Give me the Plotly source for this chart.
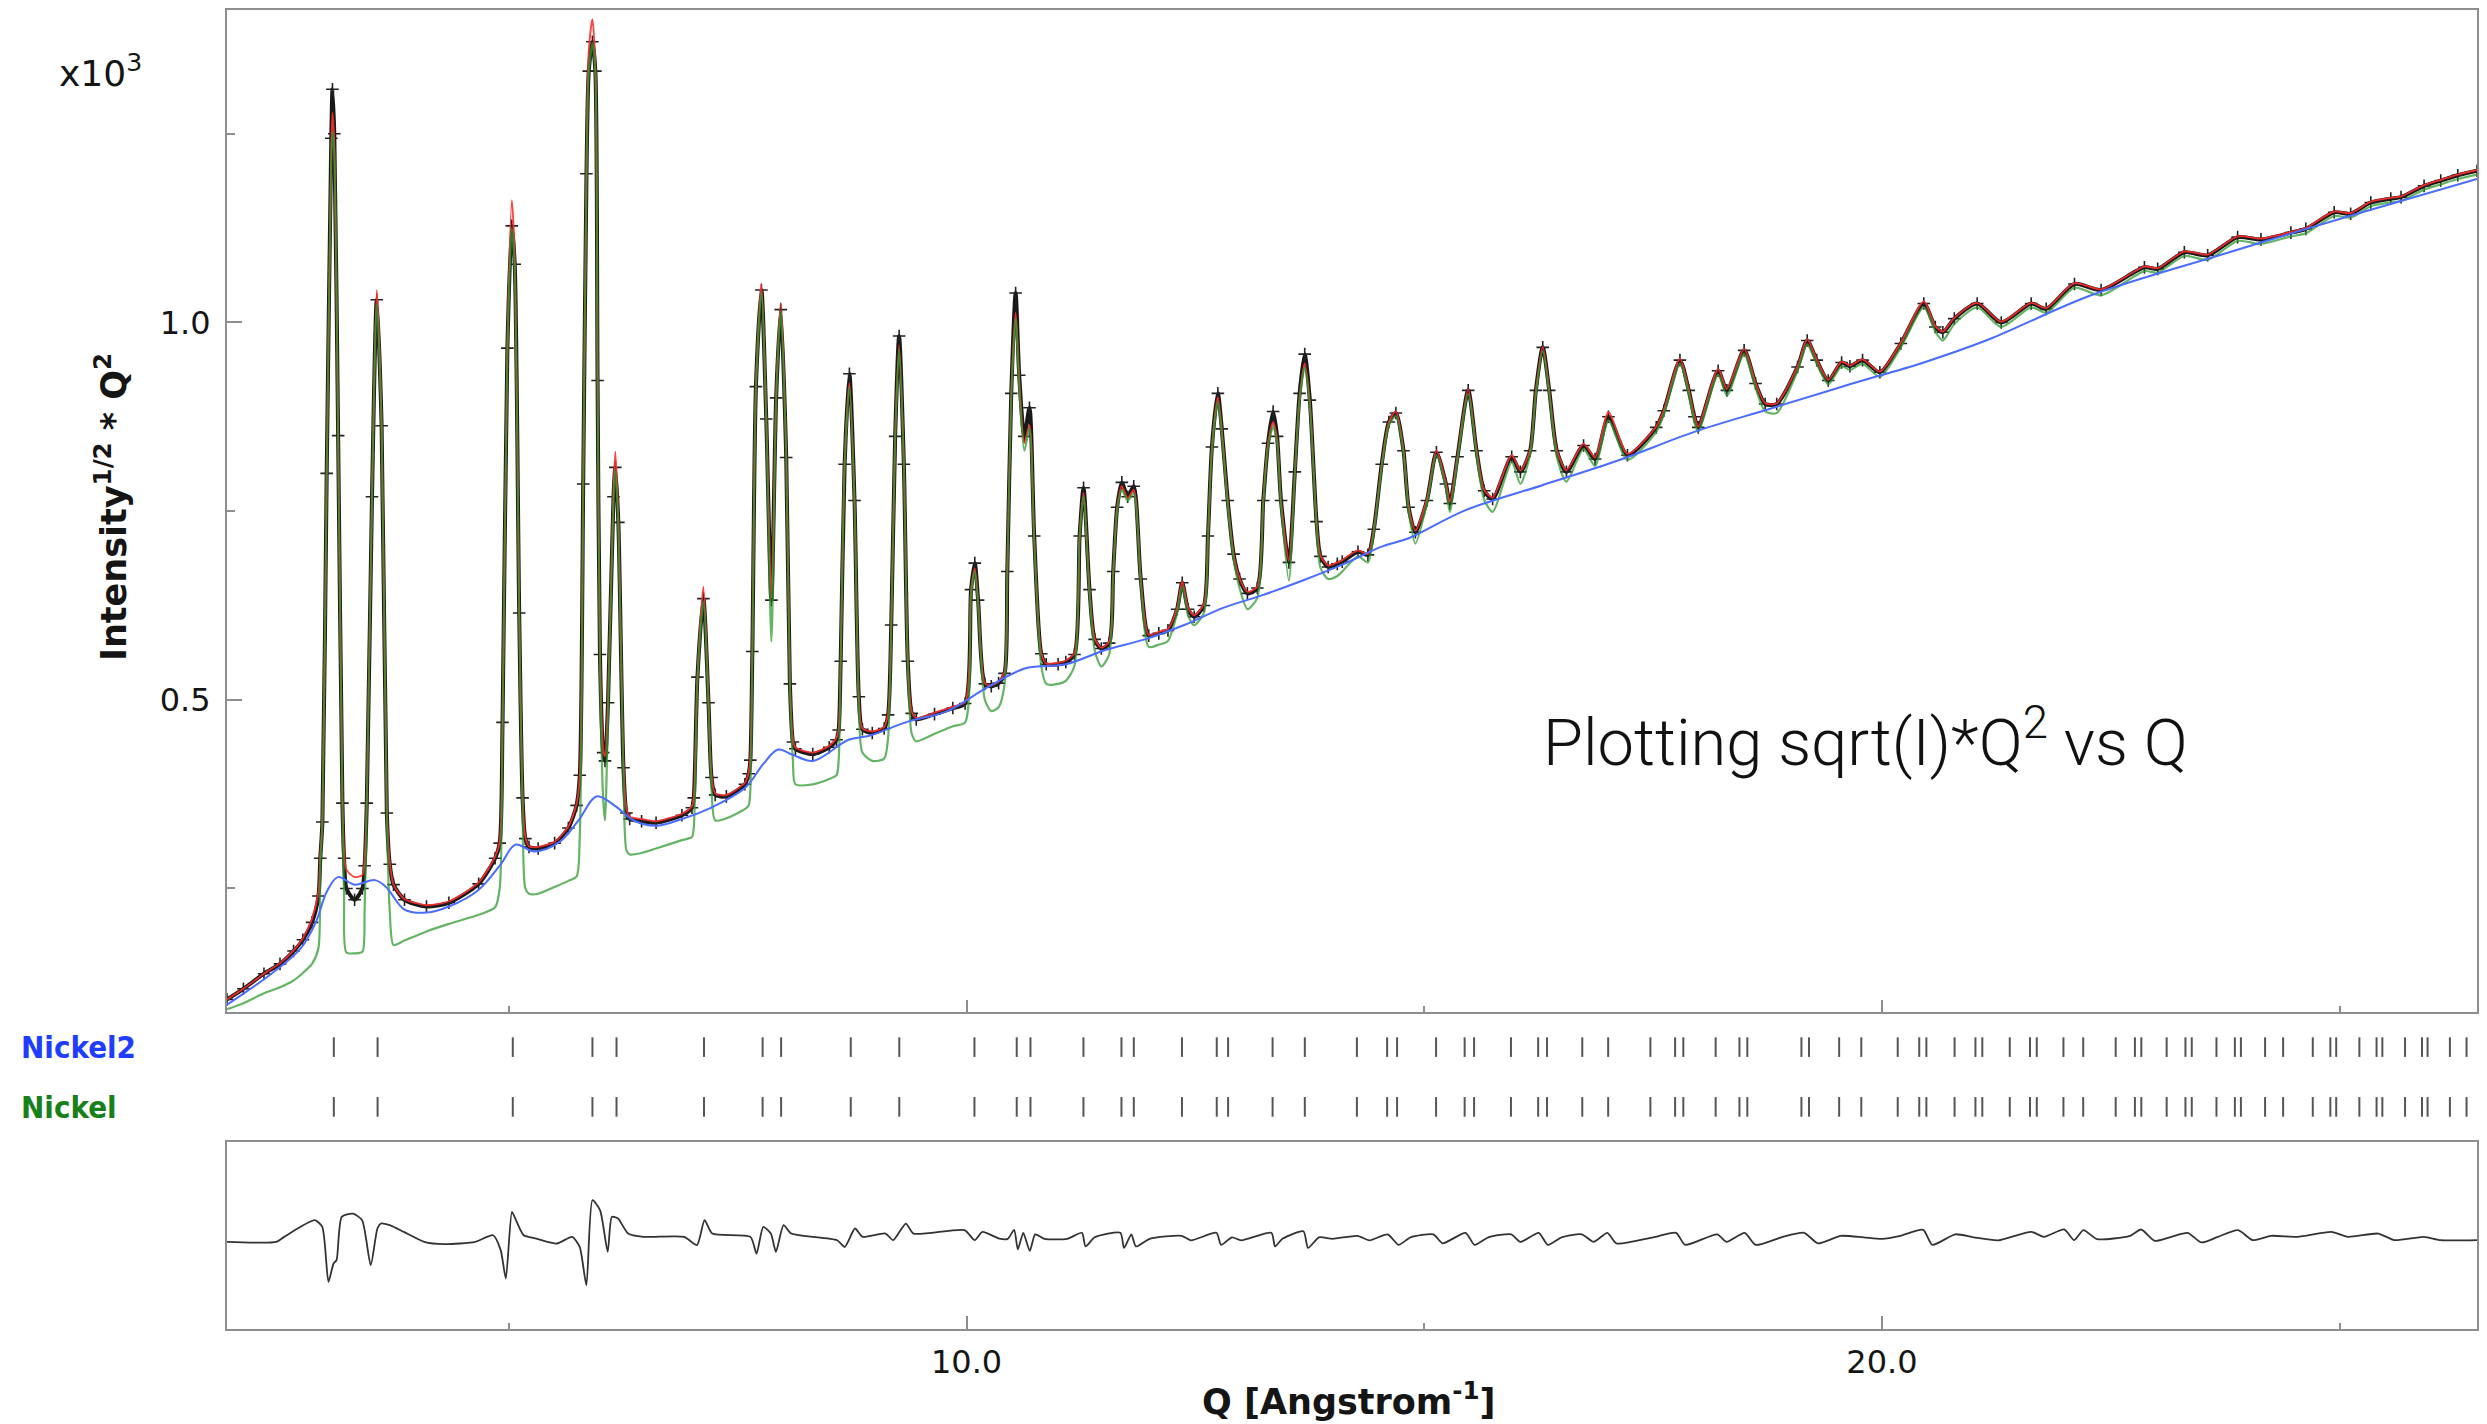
import plotly.graph_objects as go

# ---------------- data ----------------
# Q in 1/Angstrom, intensity^(1/2)*Q^2 in units of 10^3
Q_PROFILE = [
    1.921, 2.100, 2.325, 2.500, 2.648, 2.750, 2.850, 2.920, 2.940, 2.963, 3.010, 3.060, 3.073, 3.093, 3.135, 3.182, 3.200, 3.225, 3.315, 3.400, 3.424,
    3.448, 3.505, 3.557, 3.610, 3.667, 3.699, 3.740, 3.860, 4.100, 4.345, 4.670, 4.850, 4.900, 4.931, 4.984, 5.032, 5.064, 5.113, 5.150, 5.180, 5.220, 5.320, 5.500, 5.650, 5.740, 5.775,
    5.812, 5.848, 5.873, 5.913, 5.945, 5.969, 5.995, 6.030, 6.050, 6.083, 6.143, 6.163, 6.196, 6.252, 6.285, 6.320, 6.450, 6.608, 6.891, 7.000, 7.020, 7.060, 7.125, 7.181, 7.214, 7.254, 7.376, 7.578, 7.620, 7.638,
    7.660, 7.699, 7.759, 7.812, 7.868, 7.920, 7.970, 8.030, 8.070, 8.103, 8.130, 8.320, 8.500, 8.580, 8.603, 8.625, 8.668, 8.720, 8.776, 8.823, 8.862, 8.970, 9.100, 9.143, 9.177, 9.220, 9.263, 9.315, 9.358, 9.401, 9.450, 9.650, 9.850, 9.984,
    10.049, 10.090, 10.126, 10.200, 10.270, 10.350, 10.415, 10.445, 10.488, 10.536, 10.575, 10.631, 10.687, 10.739, 10.816, 10.870, 11.000, 11.084, 11.179, 11.235, 11.278, 11.343, 11.400, 11.472, 11.558, 11.602, 11.645, 11.696, 11.760, 11.826, 11.903, 11.990, 12.100, 12.200, 12.300, 12.356, 12.420, 12.486, 12.593,
    12.637, 12.680, 12.745, 12.788, 12.853, 12.917, 12.982, 13.068, 13.176, 13.241, 13.293, 13.349, 13.392, 13.435, 13.521, 13.586, 13.638, 13.694, 13.750, 13.823, 13.866, 13.950, 14.050, 14.104, 14.276, 14.384, 14.449, 14.535, 14.613, 14.690, 14.773, 14.829, 14.903,
    15.029, 15.133, 15.237, 15.279, 15.363, 15.480, 15.571, 15.655, 15.747, 15.955, 16.050, 16.156, 16.219, 16.294, 16.365, 16.448, 16.553, 16.740, 16.866, 17.012, 17.220, 17.534, 17.617, 17.793, 17.889, 17.951, 17.993, 18.210, 18.306, 18.494, 18.619, 18.724, 18.850, 19.078, 19.183, 19.287, 19.413, 19.559, 19.650, 19.788, 19.977, 20.206, 20.457, 20.582, 20.665, 20.790,
    21.040, 21.303, 21.630, 21.794, 22.103, 22.394, 22.867, 23.012, 23.303, 23.558, 23.885, 24.140, 24.467, 24.630, 24.940, 25.120, 25.340, 25.558, 25.670, 25.922, 26.104, 26.290, 26.500,
]
Y_OBS = [
    0.103, 0.117, 0.137, 0.150, 0.167, 0.182, 0.205, 0.240, 0.290, 0.338, 0.800, 1.244, 1.309, 1.250, 0.850, 0.363, 0.290, 0.250, 0.235, 0.250, 0.280,
    0.363, 0.769, 1.030, 0.863, 0.350, 0.282, 0.255, 0.235, 0.226, 0.231, 0.256, 0.290, 0.310, 0.470, 0.966, 1.128, 1.077, 0.615, 0.370, 0.316, 0.305, 0.303, 0.310, 0.330, 0.360, 0.400,
    0.786, 1.197, 1.333, 1.372, 1.333, 0.923, 0.560, 0.430, 0.419, 0.496, 0.769, 0.808, 0.735, 0.410, 0.350, 0.342, 0.339, 0.337, 0.347, 0.357, 0.370, 0.530, 0.634, 0.496, 0.397, 0.374, 0.372, 0.388, 0.402, 0.420,
    0.564, 0.915, 1.043, 0.872, 0.632, 0.900, 1.017, 0.821, 0.521, 0.444, 0.435, 0.428, 0.437, 0.447, 0.460, 0.551, 0.812, 0.932, 0.764, 0.504, 0.461, 0.456, 0.462, 0.480, 0.599, 0.849, 0.982, 0.812, 0.551, 0.482, 0.474, 0.481, 0.489, 0.495,
    0.646, 0.681, 0.632, 0.521, 0.518, 0.522, 0.535, 0.670, 0.906, 1.039, 0.930, 0.849, 0.887, 0.717, 0.561, 0.547, 0.547, 0.550, 0.560, 0.717, 0.781, 0.646, 0.580, 0.568, 0.575, 0.670, 0.755, 0.788, 0.769, 0.783, 0.660, 0.585, 0.588, 0.592, 0.620, 0.655, 0.620, 0.610, 0.625,
    0.717, 0.835, 0.906, 0.859, 0.764, 0.693, 0.660, 0.641, 0.648, 0.764, 0.840, 0.882, 0.849, 0.764, 0.682, 0.802, 0.906, 0.958, 0.897, 0.736, 0.690, 0.676, 0.680, 0.683, 0.696, 0.692, 0.726, 0.812, 0.868, 0.880, 0.830, 0.755, 0.722,
    0.764, 0.828, 0.786, 0.760, 0.822, 0.910, 0.830, 0.777, 0.766, 0.822, 0.802, 0.830, 0.910, 0.967, 0.910, 0.830, 0.802, 0.837, 0.819, 0.875, 0.824, 0.861, 0.883, 0.950, 0.910, 0.875, 0.861, 0.936, 0.910, 0.963, 0.919, 0.892, 0.892, 0.941, 0.976, 0.950, 0.923, 0.947, 0.942, 0.950, 0.934, 0.972, 1.025, 0.994, 0.987, 1.005,
    1.025, 1.000, 1.025, 1.018, 1.051, 1.043, 1.073, 1.071, 1.093, 1.089, 1.113, 1.110, 1.119, 1.124, 1.146, 1.144, 1.159, 1.164, 1.166, 1.181, 1.188, 1.195, 1.201,
]
Y_CALC = [
    0.103, 0.117, 0.137, 0.151, 0.168, 0.184, 0.210, 0.245, 0.295, 0.340, 0.800, 1.230, 1.278, 1.235, 0.850, 0.370, 0.300, 0.275, 0.265, 0.268, 0.290,
    0.370, 0.770, 1.043, 0.865, 0.355, 0.285, 0.255, 0.236, 0.228, 0.233, 0.258, 0.292, 0.312, 0.470, 0.970, 1.162, 1.090, 0.620, 0.375, 0.318, 0.306, 0.305, 0.312, 0.332, 0.362, 0.400,
    0.790, 1.210, 1.360, 1.402, 1.340, 0.930, 0.565, 0.435, 0.425, 0.500, 0.780, 0.829, 0.740, 0.415, 0.355, 0.345, 0.342, 0.339, 0.349, 0.359, 0.372, 0.530, 0.650, 0.500, 0.400, 0.376, 0.374, 0.390, 0.404, 0.425,
    0.565, 0.920, 1.051, 0.875, 0.635, 0.905, 1.026, 0.825, 0.525, 0.448, 0.437, 0.430, 0.439, 0.450, 0.462, 0.555, 0.815, 0.920, 0.765, 0.505, 0.462, 0.458, 0.464, 0.482, 0.600, 0.850, 0.970, 0.813, 0.552, 0.484, 0.476, 0.483, 0.491, 0.497,
    0.645, 0.674, 0.632, 0.522, 0.519, 0.524, 0.537, 0.672, 0.905, 1.013, 0.925, 0.840, 0.864, 0.715, 0.562, 0.548, 0.549, 0.552, 0.562, 0.718, 0.774, 0.646, 0.581, 0.569, 0.577, 0.670, 0.755, 0.783, 0.767, 0.778, 0.660, 0.586, 0.590, 0.594, 0.622, 0.657, 0.622, 0.612, 0.627,
    0.717, 0.834, 0.901, 0.857, 0.763, 0.693, 0.661, 0.643, 0.650, 0.765, 0.840, 0.868, 0.845, 0.763, 0.684, 0.800, 0.900, 0.946, 0.893, 0.736, 0.691, 0.678, 0.682, 0.685, 0.698, 0.693, 0.727, 0.812, 0.868, 0.882, 0.831, 0.757, 0.724,
    0.766, 0.830, 0.787, 0.762, 0.823, 0.912, 0.831, 0.778, 0.768, 0.824, 0.804, 0.831, 0.910, 0.968, 0.910, 0.831, 0.804, 0.839, 0.821, 0.881, 0.826, 0.862, 0.884, 0.952, 0.911, 0.876, 0.862, 0.938, 0.912, 0.965, 0.920, 0.893, 0.893, 0.942, 0.978, 0.951, 0.924, 0.948, 0.943, 0.951, 0.935, 0.973, 1.028, 0.995, 0.988, 1.006,
    1.026, 1.001, 1.026, 1.019, 1.052, 1.044, 1.074, 1.072, 1.094, 1.090, 1.114, 1.111, 1.120, 1.125, 1.147, 1.145, 1.160, 1.165, 1.167, 1.182, 1.189, 1.196, 1.202,
]
Y_PHASE = [
    0.090, 0.098, 0.111, 0.119, 0.128, 0.138, 0.150, 0.171, 0.280, 0.335, 0.795, 1.220, 1.252, 1.225, 0.845, 0.355, 0.240, 0.165, 0.164, 0.166, 0.220,
    0.360, 0.768, 1.025, 0.860, 0.345, 0.220, 0.175, 0.181, 0.193, 0.203, 0.215, 0.225, 0.250, 0.460, 0.960, 1.125, 1.070, 0.610, 0.350, 0.250, 0.243, 0.243, 0.252, 0.260, 0.266, 0.320,
    0.780, 1.190, 1.330, 1.370, 1.330, 0.920, 0.550, 0.370, 0.340, 0.480, 0.765, 0.805, 0.730, 0.400, 0.300, 0.295, 0.297, 0.303, 0.314, 0.318, 0.330, 0.525, 0.630, 0.490, 0.380, 0.340, 0.343, 0.355, 0.360, 0.380,
    0.560, 0.910, 1.040, 0.870, 0.577, 0.895, 1.015, 0.820, 0.515, 0.420, 0.388, 0.388, 0.395, 0.400, 0.420, 0.550, 0.810, 0.915, 0.760, 0.490, 0.430, 0.419, 0.422, 0.450, 0.595, 0.845, 0.965, 0.810, 0.545, 0.455, 0.445, 0.455, 0.465, 0.470,
    0.640, 0.670, 0.625, 0.500, 0.485, 0.490, 0.520, 0.665, 0.900, 1.005, 0.915, 0.830, 0.860, 0.710, 0.545, 0.521, 0.521, 0.525, 0.545, 0.715, 0.770, 0.640, 0.565, 0.544, 0.560, 0.665, 0.750, 0.778, 0.764, 0.773, 0.655, 0.570, 0.573, 0.578, 0.615, 0.650, 0.612, 0.599, 0.615,
    0.713, 0.830, 0.895, 0.852, 0.758, 0.687, 0.648, 0.620, 0.635, 0.760, 0.835, 0.862, 0.840, 0.758, 0.658, 0.798, 0.898, 0.940, 0.888, 0.730, 0.675, 0.660, 0.664, 0.670, 0.690, 0.682, 0.722, 0.808, 0.864, 0.876, 0.826, 0.750, 0.707,
    0.760, 0.824, 0.780, 0.749, 0.818, 0.905, 0.825, 0.765, 0.749, 0.815, 0.786, 0.825, 0.905, 0.962, 0.905, 0.822, 0.789, 0.832, 0.810, 0.870, 0.818, 0.855, 0.878, 0.945, 0.905, 0.868, 0.855, 0.931, 0.903, 0.958, 0.913, 0.882, 0.880, 0.936, 0.971, 0.945, 0.918, 0.942, 0.937, 0.945, 0.928, 0.967, 1.020, 0.988, 0.976, 0.998,
    1.020, 0.994, 1.020, 1.013, 1.046, 1.036, 1.068, 1.066, 1.088, 1.083, 1.108, 1.104, 1.114, 1.118, 1.141, 1.139, 1.154, 1.159, 1.161, 1.176, 1.183, 1.190, 1.196,
]

BG_Q = [1.921, 2.406, 2.729, 2.891, 3.012, 3.133, 3.315, 3.537, 3.658, 3.860, 4.103, 4.345, 4.668, 4.911, 5.072, 5.275, 5.557,
        5.759, 5.961, 6.163, 6.365, 6.608, 6.891, 7.174, 7.578, 7.780, 7.941, 8.103, 8.323, 8.711, 8.927, 9.358, 9.790,
        10.221, 10.652, 11.084, 11.515, 11.947, 12.378, 12.810, 13.241, 13.672, 14.104, 14.535, 14.829, 15.446, 16.281,
        17.116, 17.951, 18.787, 19.621, 20.457, 21.158, 22.285, 23.740, 25.190, 26.500]
BG_Y = [0.096, 0.137, 0.171, 0.205, 0.246, 0.265, 0.255, 0.261, 0.252, 0.222, 0.218, 0.226, 0.248, 0.282, 0.308, 0.299, 0.312,
        0.340, 0.372, 0.359, 0.340, 0.333, 0.342, 0.355, 0.383, 0.415, 0.434, 0.427, 0.419, 0.447, 0.452, 0.471, 0.485,
        0.516, 0.542, 0.547, 0.566, 0.580, 0.599, 0.622, 0.639, 0.658, 0.679, 0.703, 0.714, 0.751, 0.784,
        0.817, 0.855, 0.886, 0.917, 0.947, 0.977, 1.036, 1.091, 1.144, 1.190]

# difference curve (obs - calc), same units
DIFF_Q = [1.916, 2.461, 2.545, 2.879, 2.962, 3.029, 3.085, 3.118, 3.174, 3.296, 3.397, 3.491, 3.564, 3.603, 3.697, 3.853,
          4.076, 4.298, 4.633, 4.828, 4.911, 4.967, 5.034, 5.078, 5.162, 5.301, 5.524, 5.691, 5.774, 5.847, 5.913, 5.997,
          6.080, 6.125, 6.192, 6.303, 6.470, 6.915, 7.055, 7.138, 7.222, 7.639, 7.706, 7.779, 7.862, 7.918, 8.001, 8.085,
          8.586, 8.670, 8.781, 8.864, 9.115, 9.198, 9.337, 9.421, 9.978, 10.089, 10.173, 10.357,
          10.45, 10.52, 10.56, 10.62, 10.69, 10.75, 10.85, 11.10, 11.26, 11.30, 11.40, 11.68, 11.72, 11.80, 11.85, 12.00,
          12.35, 12.45, 12.73, 12.78, 12.90, 13.00, 13.33, 13.37, 13.45, 13.68, 13.73, 13.85, 14.00, 14.27, 14.40, 14.60,
          14.72, 14.85, 15.10, 15.20, 15.45, 15.55, 15.70, 15.95, 16.05, 16.25, 16.35, 16.50, 16.72, 16.85, 17.00, 17.10,
          17.50, 17.75, 17.85, 18.20, 18.30, 18.50, 18.62, 18.90, 19.15, 19.30, 19.55, 19.80, 20.00, 20.20, 20.45, 20.55,
          20.80, 21.00, 21.27, 21.63, 21.77, 21.99, 22.10, 22.20, 22.35, 22.71, 22.83, 22.98, 23.16, 23.34, 23.49, 23.67,
          23.89, 24.05, 24.25, 24.54, 24.91, 25.09, 25.42, 25.60, 25.92, 26.10, 26.50]
DIFF_Y = [0.0, 0.0, 0.0066, 0.0287, 0.0199, -0.0530, -0.0287, -0.0243, 0.0331, 0.0375, 0.0287, -0.0309, 0.0177, 0.0243, 0.0221, 0.0132,
          0.0, -0.0031, 0.0, 0.0088, -0.0110, -0.0486, 0.0397, 0.0287, 0.0088, 0.0044, -0.0022, 0.0066, -0.0066, -0.0574, 0.0552, 0.0419,
          -0.0132, 0.0331, 0.0309, 0.0110, 0.0066, 0.0066, -0.0044, 0.0287, 0.0110, 0.0066, -0.0155, 0.0199, 0.0110, -0.0132, 0.0221, 0.0110,
          0.0022, -0.0066, 0.0177, 0.0066, 0.0110, 0.0022, 0.0243, 0.0110, 0.0155, 0.0022, 0.0132, 0.0044,
          0.004, 0.016, -0.010, 0.012, -0.012, 0.010, 0.004, 0.004, 0.012, -0.006, 0.006, 0.012, -0.008, 0.010, -0.006, 0.004,
          0.008, 0.002, 0.012, -0.004, 0.006, 0.002, 0.012, -0.006, 0.004, 0.014, -0.008, 0.006, 0.004, 0.008, 0.002, 0.010,
          -0.004, 0.006, 0.010, -0.002, 0.012, -0.004, 0.006, 0.010, 0.000, 0.012, -0.004, 0.006, 0.010, 0.000, 0.012, -0.002,
          0.006, 0.012, -0.004, 0.010, 0.000, 0.012, -0.004, 0.006, 0.012, -0.002, 0.008, 0.006, 0.004, 0.008, 0.016, -0.004,
          0.010, 0.006, 0.002, 0.0133, 0.0067, 0.0164, 0.0023, 0.0155, 0.0036, 0.0080, 0.0164, 0.0014, 0.0067, 0.0119, -0.0008, 0.0067,
          0.0155, 0.0023, 0.0080, 0.0067, 0.0133, 0.0067, 0.0110, 0.0023, 0.0067, 0.0023, 0.0023]

# reflection positions (Q, 1/Angstrom) for the two phases
NICKEL_Q = [3.088, 3.566, 5.043, 5.913, 6.176, 7.132, 7.772, 7.974, 8.735, 9.265, 10.086, 10.548, 10.698, 11.277, 11.692,
            11.827, 12.353, 12.733, 12.857, 13.343, 13.695, 14.264, 14.594, 14.703, 15.129, 15.441, 15.544, 15.947, 16.244,
            16.341, 16.726, 17.009, 17.470, 17.740, 17.830, 18.183, 18.443, 18.529, 19.120, 19.203, 19.532, 19.774, 20.172,
            20.407, 20.485, 20.793, 21.021, 21.096, 21.396, 21.617, 21.691, 21.982, 22.198, 22.553, 22.763, 22.833, 23.110,
            23.315, 23.384, 23.654, 23.855, 23.921, 24.185, 24.382, 24.706, 24.898, 24.962, 25.215, 25.403, 25.466, 25.714,
            25.899, 25.960, 26.204, 26.386]
NICKEL2_Q = [3.088, 3.566, 5.043, 5.913, 6.176, 7.132, 7.772, 7.974, 8.735, 9.265, 10.086, 10.548, 10.698, 11.277, 11.692,
             11.827, 12.353, 12.733, 12.857, 13.343, 13.695, 14.264, 14.594, 14.703, 15.129, 15.441, 15.544, 15.947, 16.244,
             16.341, 16.726, 17.009, 17.470, 17.740, 17.830, 18.183, 18.443, 18.529, 19.120, 19.203, 19.532, 19.774, 20.172,
             20.407, 20.485, 20.793, 21.021, 21.096, 21.396, 21.617, 21.691, 21.982, 22.198, 22.553, 22.763, 22.833, 23.110,
             23.315, 23.384, 23.654, 23.855, 23.921, 24.185, 24.382, 24.706, 24.898, 24.962, 25.215, 25.403, 25.466, 25.714,
             25.899, 25.960, 26.204, 26.386]

assert len(Q_PROFILE) == len(Y_OBS) == len(Y_CALC) == len(Y_PHASE), (len(Q_PROFILE), len(Y_OBS), len(Y_CALC), len(Y_PHASE))
assert len(BG_Q) == len(BG_Y) and len(DIFF_Q) == len(DIFF_Y), (len(BG_Q), len(BG_Y), len(DIFF_Q), len(DIFF_Y))

# ---------------- figure ----------------
W, H = 2487, 1424
AX = "#8e8e8e"
FONT = "DejaVu Sans"
SMOOTH = 0.7

fig = go.Figure()
fig.add_trace(go.Scatter(x=Q_PROFILE, y=Y_OBS, mode="lines+markers",
                         line=dict(color="rgba(0,0,0,0.9)", width=4, shape="spline", smoothing=SMOOTH),
                         marker=dict(symbol="cross-thin", size=9, line=dict(color="#222222", width=1.6)),
                         xaxis="x", yaxis="y"))
fig.add_trace(go.Scatter(x=Q_PROFILE, y=Y_CALC, mode="lines",
                         line=dict(color="rgba(255,45,45,0.9)", width=1.8, shape="spline", smoothing=SMOOTH),
                         xaxis="x", yaxis="y"))
fig.add_trace(go.Scatter(x=Q_PROFILE, y=Y_PHASE, mode="lines",
                         line=dict(color="rgba(50,155,50,0.75)", width=2.2, shape="spline", smoothing=SMOOTH),
                         xaxis="x", yaxis="y"))
fig.add_trace(go.Scatter(x=BG_Q, y=BG_Y, mode="lines",
                         line=dict(color="#4a6cff", width=2, shape="spline", smoothing=1.0), xaxis="x", yaxis="y"))

fig.add_trace(go.Scatter(x=NICKEL2_Q, y=[0.73] * len(NICKEL2_Q), mode="markers",
                         marker=dict(symbol="line-ns", size=14, line=dict(color="#555555", width=2)),
                         xaxis="x2", yaxis="y2"))
fig.add_trace(go.Scatter(x=NICKEL_Q, y=[0.27] * len(NICKEL_Q), mode="markers",
                         marker=dict(symbol="line-ns", size=14, line=dict(color="#555555", width=2)),
                         xaxis="x2", yaxis="y2"))

fig.add_trace(go.Scatter(x=DIFF_Q, y=DIFF_Y, mode="lines",
                         line=dict(color="#333333", width=1.8, shape="spline", smoothing=0.6),
                         xaxis="x3", yaxis="y3"))

frame = dict(showline=True, mirror=True, linecolor=AX, linewidth=2, showgrid=False, zeroline=False)

fig.update_layout(
    width=W, height=H, margin=dict(l=227, r=8, t=10, b=95),
    paper_bgcolor="white", plot_bgcolor="white", showlegend=False,
    xaxis=dict(domain=[0, 1], anchor="y", range=[1.921, 26.50], ticks="inside", tick0=0, dtick=10,
               ticklen=12, tickcolor=AX, tickwidth=1.5, showticklabels=False,
               minor=dict(ticks="inside", tick0=0, dtick=5, ticklen=6, tickcolor=AX, tickwidth=1.5), **frame),
    yaxis=dict(domain=[0.2403, 1], anchor="x", range=[0.0862, 1.414], ticks="inside", tick0=0, dtick=0.5,
               tickformat=".1f", ticklen=15, tickcolor=AX, tickwidth=1.5, ticklabelstandoff=8,
               tickfont=dict(family=FONT, size=32, color="#151515"),
               minor=dict(ticks="inside", tick0=0, dtick=0.25, ticklen=8, tickcolor=AX, tickwidth=1.5), **frame),
    xaxis2=dict(domain=[0, 1], anchor="y2", matches="x", visible=False),
    yaxis2=dict(domain=[0.1418, 0.2403], anchor="x2", range=[0, 1], visible=False),
    xaxis3=dict(domain=[0, 1], anchor="y3", matches="x", ticks="inside", tick0=0, dtick=10,
                tickformat=".1f", ticklen=13, tickcolor=AX, tickwidth=1.5, ticklabelstandoff=4,
                tickfont=dict(family=FONT, size=32, color="#151515"),
                minor=dict(ticks="inside", tick0=0, dtick=5, ticklen=6, tickcolor=AX, tickwidth=1.5), **frame),
    yaxis3=dict(domain=[0, 0.1418], anchor="x3", range=[-0.1156, 0.1325], ticks="", showticklabels=False, **frame),
)

ann = [
    dict(text="x10<sup>3</sup>", xref="paper", yref="paper", x=-0.0564, y=0.9538, xanchor="center",
         font=dict(family=FONT, size=36, color="#151515")),
    dict(text="<b>Intensity<sup>1/2</sup> * Q<sup>2</sup></b>", xref="paper", yref="paper", x=-0.0515, y=0.6232,
         xanchor="center", textangle=-90, font=dict(family=FONT, size=35, color="#151515")),
    dict(text="<b>Q [Angstrom<sup>-1</sup>]</b>", xref="paper", yref="paper", x=0.4987, y=-0.0531,
         xanchor="center", font=dict(family=FONT, size=35, color="#151515")),
    dict(text="Nickel2", xref="paper", yref="paper", x=-0.0924, y=0.2138, xanchor="left",
         font=dict(family="DejaVu Sans Condensed", size=31, color="#1f3dff", weight="bold")),
    dict(text="Nickel", xref="paper", yref="paper", x=-0.0924, y=0.1683, xanchor="left",
         font=dict(family="DejaVu Sans Condensed", size=31, color="#17801a", weight="bold")),
    dict(text="Plotting sqrt(I)*Q<sup>2</sup> vs Q", xref="x", yref="y", x=16.28, y=0.449, xanchor="left",
         font=dict(family="Roboto", size=65, color="#111111", weight=300)),
]
for a in ann:
    a.setdefault("showarrow", False)
    a.setdefault("yanchor", "middle")
    fig.add_annotation(**a)

fig.write_html("out.html")
